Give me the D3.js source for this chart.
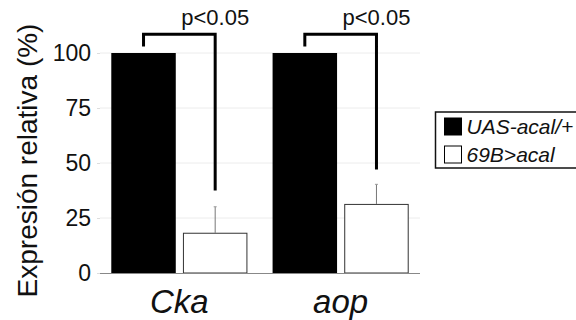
<!DOCTYPE html>
<html>
<head>
<meta charset="utf-8">
<script src="https://cdn.jsdelivr.net/npm/d3@7"></script>
<style>
  body { margin: 0; background: #fff; }
  svg { display: block; font-family: "Liberation Sans", Arial, sans-serif; }
</style>
</head>
<body>
<div class="chart"></div>
<script>
// data
const genes = ["Cka", "aop"];
const groups = ["UAS-acal/+", "69B>acal"];
const control = [100, 100];
const mutant = [18.3, 31.4];
const mutantErr = [11.8, 8.9];
const yTicks = [0, 25, 50, 75, 100];
const sigLabel = ["p<0.05", "p<0.05"];
const sigTop = 108.5;     // height of bracket bar
const sigLeftEnd = 103;   // where the left leg stops
const sigRightEnd = [37.5, 47];

const width = 576, height = 320;
const svg = d3.select(".chart").append("svg")
  .attr("width", width)
  .attr("height", height);

const x = d3.scaleBand().domain(genes).range([100, 420]).paddingInner(0.156).paddingOuter(0.07);
const xs = d3.scaleBand().domain(groups).range([0, x.bandwidth()]).paddingInner(0.1);
const y = d3.scaleLinear().domain([0, 100]).range([273, 53]);

// grid
svg.append("g").selectAll("line")
  .data(yTicks.filter(d => d > 0))
  .join("line")
  .attr("x1", 100).attr("x2", 420)
  .attr("y1", d => y(d)).attr("y2", d => y(d))
  .attr("stroke", "#ececec").attr("stroke-width", 1);

// y axis labels
const yAxis = svg.append("g")
  .attr("transform", "translate(100,0)")
  .call(d3.axisLeft(y).tickValues(yTicks).tickSize(3).tickPadding(6));
yAxis.select(".domain").remove();
yAxis.selectAll(".tick line").attr("stroke", "#ddd");
yAxis.selectAll(".tick text")
  .attr("font-size", 23)
  .attr("font-family", "Liberation Sans, Arial, sans-serif")
  .attr("fill", "#111");

svg.append("text")
  .attr("transform", "translate(37,160.5) rotate(-90)")
  .attr("text-anchor", "middle")
  .attr("font-size", 28)
  .attr("fill", "#111")
  .text("Expresión relativa (%)");

const rows = genes.map((g, i) => ({ gene: g, i }));

// bars
const gBars = svg.append("g");
gBars.selectAll(".ctrl")
  .data(rows).join("rect")
  .attr("class", "ctrl")
  .attr("x", d => x(d.gene) + xs(groups[0]))
  .attr("width", xs.bandwidth())
  .attr("y", d => y(control[d.i]))
  .attr("height", d => y(0) - y(control[d.i]))
  .attr("fill", "#000");

// error bars (upper only)
gBars.selectAll(".err")
  .data(rows).join("line")
  .attr("class", "err")
  .attr("x1", d => x(d.gene) + xs(groups[1]) + xs.bandwidth() / 2)
  .attr("x2", d => x(d.gene) + xs(groups[1]) + xs.bandwidth() / 2)
  .attr("y1", d => y(mutant[d.i]))
  .attr("y2", d => y(mutant[d.i] + mutantErr[d.i]))
  .attr("stroke", "#777").attr("stroke-width", 1);
gBars.selectAll(".cap")
  .data(rows).join("line")
  .attr("class", "cap")
  .attr("x1", d => x(d.gene) + xs(groups[1]) + xs.bandwidth() / 2 - 1.5)
  .attr("x2", d => x(d.gene) + xs(groups[1]) + xs.bandwidth() / 2 + 1.5)
  .attr("y1", d => y(mutant[d.i] + mutantErr[d.i]))
  .attr("y2", d => y(mutant[d.i] + mutantErr[d.i]))
  .attr("stroke", "#999").attr("stroke-width", 1);

gBars.selectAll(".mut")
  .data(rows).join("rect")
  .attr("class", "mut")
  .attr("x", d => x(d.gene) + xs(groups[1]) + 0.5)
  .attr("width", xs.bandwidth() - 1)
  .attr("y", d => y(mutant[d.i]) + 0.5)
  .attr("height", d => y(0) - y(mutant[d.i]) - 0.5)
  .attr("fill", "#fff")
  .attr("stroke", "#333").attr("stroke-width", 1);

// baseline
svg.append("line")
  .attr("x1", 100).attr("x2", 420)
  .attr("y1", y(0) + 0.5).attr("y2", y(0) + 0.5)
  .attr("stroke", "#888").attr("stroke-width", 1);

// x labels
svg.append("g").selectAll("text")
  .data(genes).join("text")
  .attr("x", d => x(d) + x.bandwidth() / 2)
  .attr("y", 313)
  .attr("text-anchor", "middle")
  .attr("font-size", 33)
  .attr("font-style", "italic")
  .attr("fill", "#111")
  .text(d => d);

// significance brackets
const line = d3.line();
svg.append("g").selectAll("path")
  .data(rows).join("path")
  .attr("d", d => {
    const xl = x(d.gene) + xs(groups[0]) + xs.bandwidth() / 2;
    const xr = x(d.gene) + xs(groups[1]) + xs.bandwidth() / 2;
    return line([[xl, y(sigLeftEnd)], [xl, y(sigTop)], [xr, y(sigTop)], [xr, y(sigRightEnd[d.i])]]);
  })
  .attr("fill", "none")
  .attr("stroke", "#000")
  .attr("stroke-width", 3);

svg.append("g").selectAll("text")
  .data(rows).join("text")
  .attr("x", d => x(d.gene) + xs(groups[1]) + xs.bandwidth() / 2)
  .attr("y", 25)
  .attr("text-anchor", "middle")
  .attr("font-size", 22)
  .attr("fill", "#111")
  .text(d => sigLabel[d.i]);

// legend
const legend = svg.append("g").attr("transform", "translate(435.5,112)");
legend.append("rect")
  .attr("width", 160).attr("height", 56)
  .attr("fill", "#fff").attr("stroke", "#111").attr("stroke-width", 1.5);
const items = legend.selectAll(".item")
  .data(groups).join("g")
  .attr("class", "item")
  .attr("transform", (d, i) => `translate(9,${6 + i * 28})`);
items.append("rect")
  .attr("width", 17).attr("height", 17)
  .attr("fill", (d, i) => i === 0 ? "#000" : "#fff")
  .attr("stroke", "#000").attr("stroke-width", 1);
items.append("text")
  .attr("x", 22).attr("y", 16)
  .attr("font-size", 21)
  .attr("font-style", "italic")
  .attr("fill", "#111")
  .text(d => d);
</script>
</body>
</html>
